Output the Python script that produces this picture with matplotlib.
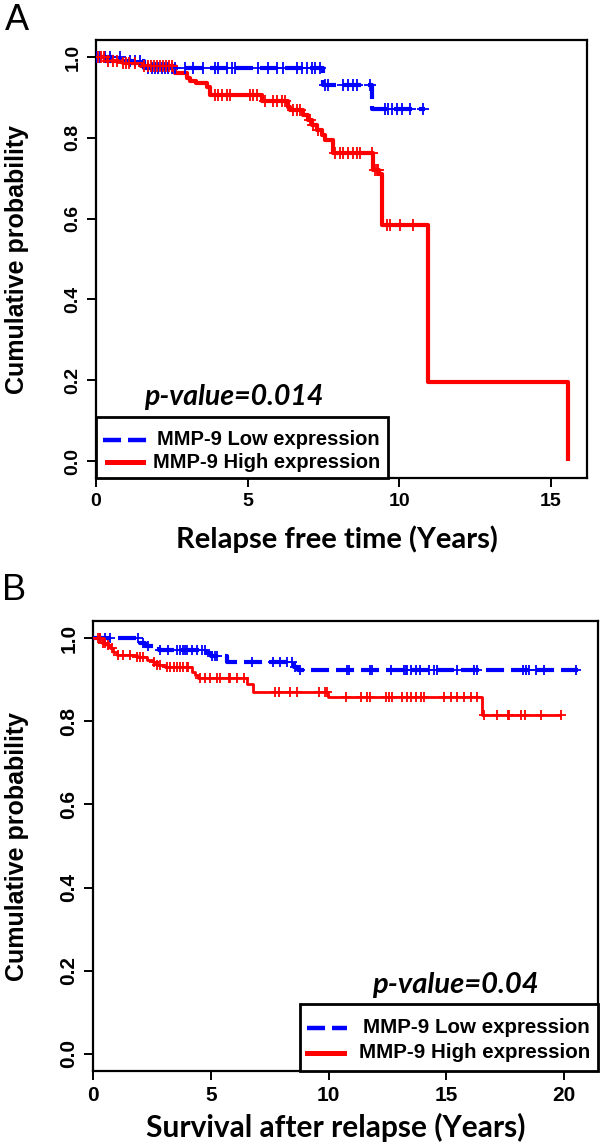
import matplotlib

matplotlib.use("Agg")
import matplotlib.pyplot as plt
import numpy as np
from matplotlib.lines import Line2D
from matplotlib.patches import Rectangle

plt.rcParams["lines.scale_dashes"] = False

# --- Panel A: relapse free time (years) ---
a_low_time = [0, 0.8, 1.6, 7.5, 9.1]
a_low_surv = [1.0, 0.99, 0.973, 0.930, 0.872]
a_low_end = 10.85
a_low_cens = [0.02, 0.13, 0.3, 0.46, 0.79, 1.12, 1.29, 1.45, 1.73, 1.84, 1.95, 2.06,
              2.17, 2.28, 2.39, 2.5, 2.61, 2.94, 3.21, 3.54, 3.93, 4.04, 4.31, 4.48,
              4.59, 5.36, 5.69, 5.96, 6.18, 6.62, 6.79, 6.95, 7.12, 7.23, 7.39, 7.56,
              7.66, 8.16, 8.33, 8.49, 8.6, 9.04, 9.54, 9.65, 9.76, 9.92, 10.09, 10.36, 10.8]

a_high_time = [0, 0.3, 0.9, 1.5, 2.6, 3.0, 3.1, 3.3, 3.65, 3.76, 5.47, 6.35, 6.4, 6.84,
               7.0, 7.12, 7.28, 7.45, 7.56, 7.83, 9.15, 9.35, 9.45, 10.96, 15.58]
a_high_surv = [1.0, 0.99, 0.985, 0.978, 0.96, 0.947, 0.94, 0.935, 0.925, 0.906, 0.89,
               0.877, 0.869, 0.857, 0.844, 0.832, 0.82, 0.807, 0.795, 0.762, 0.72, 0.71,
               0.583, 0.196, 0.0]
a_high_cens = [0.05, 0.15, 0.25, 0.4, 0.55, 0.7, 0.9, 1.0, 1.1, 1.3, 1.6, 1.7, 1.8, 1.9,
               2.0, 2.1, 2.2, 2.3, 2.4, 2.5, 3.93, 4.04, 4.15, 4.31, 4.42, 5.08, 5.19, 5.3,
               5.58, 5.85, 5.96, 6.13, 6.24, 6.51, 6.62, 6.73, 7.06, 7.17, 7.34, 7.89,
               8.05, 8.16, 8.33, 8.49, 8.6, 8.71, 9.1, 9.2, 9.26, 9.32, 9.59, 9.7, 10.03, 10.47]

# --- Panel B: survival after relapse (years) ---
b_low_time = [0, 2.0, 2.2, 2.8, 4.8, 5.0, 5.7, 8.55, 8.7]
b_low_surv = [1.0, 0.989, 0.981, 0.973, 0.964, 0.957, 0.943, 0.931, 0.925]
b_low_end = 20.6
b_low_cens = [0.3, 0.5, 0.72, 1.93, 2.14, 2.35, 2.85, 3.2, 3.55, 3.7, 3.84, 3.9, 3.98,
              4.2, 4.4, 4.62, 4.76, 5.05, 5.19, 5.26, 6.75, 7.66, 7.95, 8.24, 8.45, 8.59,
              8.8, 10.79, 10.86, 11.78, 11.86, 12.64, 13.2, 13.27, 13.34, 13.49, 13.7,
              13.9, 14.27, 14.48, 14.62, 15.47, 16.18, 16.32, 18.24, 18.38, 18.52, 18.81,
              19.16, 20.5]

b_high_time = [0, 0.37, 0.58, 0.72, 0.86, 1.0, 1.86, 2.28, 2.56, 2.7, 3.06, 4.19, 4.33,
               4.47, 6.52, 6.81, 9.99, 16.5]
b_high_surv = [1.0, 0.99, 0.983, 0.976, 0.968, 0.961, 0.955, 0.949, 0.943, 0.937, 0.931,
               0.919, 0.911, 0.905, 0.891, 0.872, 0.860, 0.816]
b_high_end = 19.87
b_high_cens = [0.22, 0.3, 0.44, 0.51, 0.65, 0.79, 1.08, 1.29, 1.57, 1.86, 2.0, 2.14, 2.57,
               2.71, 2.85, 3.13, 3.27, 3.42, 3.56, 3.7, 3.84, 3.98, 4.05, 4.55, 4.76, 4.98,
               5.26, 5.4, 5.76, 5.83, 6.11, 6.39, 7.74, 7.88, 8.38, 8.66, 9.59, 9.87, 9.94,
               10.72, 11.36, 11.64, 11.78, 12.42, 12.57, 12.71, 13.13, 13.34, 13.49, 13.7,
               13.91, 14.05, 14.91, 15.19, 15.47, 15.76, 16.04, 16.32, 16.61, 17.17, 17.6,
               17.67, 18.17, 18.32, 19.02, 19.87]

LOW_LABEL = "MMP-9 Low expression"
HIGH_LABEL = "MMP-9 High expression"
BLUE = "#0000ff"
RED = "#ff0000"
DASH = (0, (13, 5))
TICK_FONT = "Liberation Sans"
TITLE_FONT = "Lato"


def step_at(times, surv, t):
    idx = np.searchsorted(times, t, side="right") - 1
    return np.asarray(surv)[idx]


def km_curve(ax, times, surv, end, cens, color, ls, lw, ms):
    xs = list(times) + ([end] if end is not None else [])
    ys = list(surv) + ([surv[-1]] if end is not None else [])
    ax.step(xs, ys, where="post", color=color, ls=ls, lw=lw, solid_capstyle="butt",
            dash_capstyle="butt", zorder=3)
    ax.plot(cens, step_at(times, surv, cens), ls="none", marker="+", color=color,
            ms=ms, mew=1.3, zorder=4)


def style_axes(ax, xticks, xlim, tick_size):
    ax.set_xlim(*xlim)
    ax.set_ylim(-0.042, 1.042)
    ax.set_xticks(xticks)
    ax.set_yticks([0.0, 0.2, 0.4, 0.6, 0.8, 1.0])
    ax.set_yticklabels(["0.0", "0.2", "0.4", "0.6", "0.8", "1.0"], rotation=90, va="center")
    for s in ax.spines.values():
        s.set_linewidth(1.6)
    ax.tick_params(direction="out", length=6.5, width=1.4, pad=4, top=False, right=False)
    for lab in ax.get_xticklabels() + ax.get_yticklabels():
        lab.set_fontfamily(TICK_FONT)
        lab.set_fontweight("bold")
        lab.set_fontsize(tick_size)


def manual_legend(ax, x0, x1, y1, blue_x, red_x, tx, rows_y, fs):
    ax.add_patch(Rectangle((x0, 0), x1 - x0, y1, transform=ax.transAxes, fill=True,
                           facecolor="white", edgecolor="black", lw=2.0, zorder=6,
                           clip_on=False))
    ax.add_line(Line2D(blue_x, [rows_y[0]] * 2, transform=ax.transAxes, color=BLUE,
                       lw=3.2, ls=DASH, zorder=7))
    ax.add_line(Line2D(red_x, [rows_y[1]] * 2, transform=ax.transAxes, color=RED,
                       lw=3.6, zorder=7))
    for y, txt in zip(rows_y, [LOW_LABEL, HIGH_LABEL]):
        ax.text(tx, y, txt, transform=ax.transAxes, ha="right", va="center",
                fontsize=fs, fontweight="bold", family=TICK_FONT, zorder=7)


fig = plt.figure(figsize=(6.0, 11.48), dpi=100)
ax_a = fig.add_axes([96 / 600, 1 - 478 / 1148, 491 / 600, 438 / 1148])
ax_b = fig.add_axes([93 / 600, 1 - 1071 / 1148, 505 / 600, 450 / 1148])

# --- Panel A ---
km_curve(ax_a, a_low_time, a_low_surv, a_low_end, a_low_cens, BLUE, DASH, 3.0, 8)
km_curve(ax_a, a_high_time, a_high_surv, None, a_high_cens, RED, "-", 3.0, 8)
style_axes(ax_a, [0, 5, 10, 15], (0, 16.2), 14)
ax_a.set_xlabel("Relapse free time (Years)", family=TITLE_FONT, fontweight="bold", fontsize=21)
ax_a.set_ylabel("Cumulative probability", family=TICK_FONT, fontweight="bold", fontsize=18)
ax_a.xaxis.set_label_coords(0.49, -0.108)
ax_a.yaxis.set_label_coords(-0.136, 0.5)
ax_a.text(0.281, 0.185, "p-value=0.014", transform=ax_a.transAxes, ha="center", va="center",
          family=TITLE_FONT, fontweight="bold", style="italic", fontsize=20.5)
manual_legend(ax_a, 0.0, 0.595, 0.139, [0.0143, 0.1059], [0.0224, 0.0957], 0.578,
              [0.0868, 0.0365], 14.5)
fig.text(5 / 600, 1 - 20 / 1148, "A", family=TICK_FONT, fontsize=26, va="center", ha="left")

# --- Panel B ---
km_curve(ax_b, b_low_time, b_low_surv, b_low_end, b_low_cens, BLUE, DASH, 3.0, 7)
km_curve(ax_b, b_high_time, b_high_surv, b_high_end, b_high_cens, RED, "-", 2.0, 7)
style_axes(ax_b, [0, 5, 10, 15, 20], (0, 21.44), 15)
ax_b.set_xlabel("Survival after relapse (Years)", family=TITLE_FONT, fontweight="bold", fontsize=21.5)
ax_b.set_ylabel("Cumulative probability", family=TICK_FONT, fontweight="bold", fontsize=18)
ax_b.xaxis.set_label_coords(0.48, -0.094)
ax_b.yaxis.set_label_coords(-0.127, 0.5)
ax_b.text(0.717, 0.191, "p-value=0.04", transform=ax_b.transAxes, ha="center", va="center",
          family=TITLE_FONT, fontweight="bold", style="italic", fontsize=21)
manual_legend(ax_b, 0.41, 1.0, 0.149, [0.424, 0.503], [0.424, 0.497], 0.984,
              [0.0956, 0.04], 14.8)
fig.text(2 / 600, 1 - 590 / 1148, "B", family=TICK_FONT, fontsize=26, va="center", ha="left")

fig.savefig("out.png", dpi=100)
plt.close(fig)
